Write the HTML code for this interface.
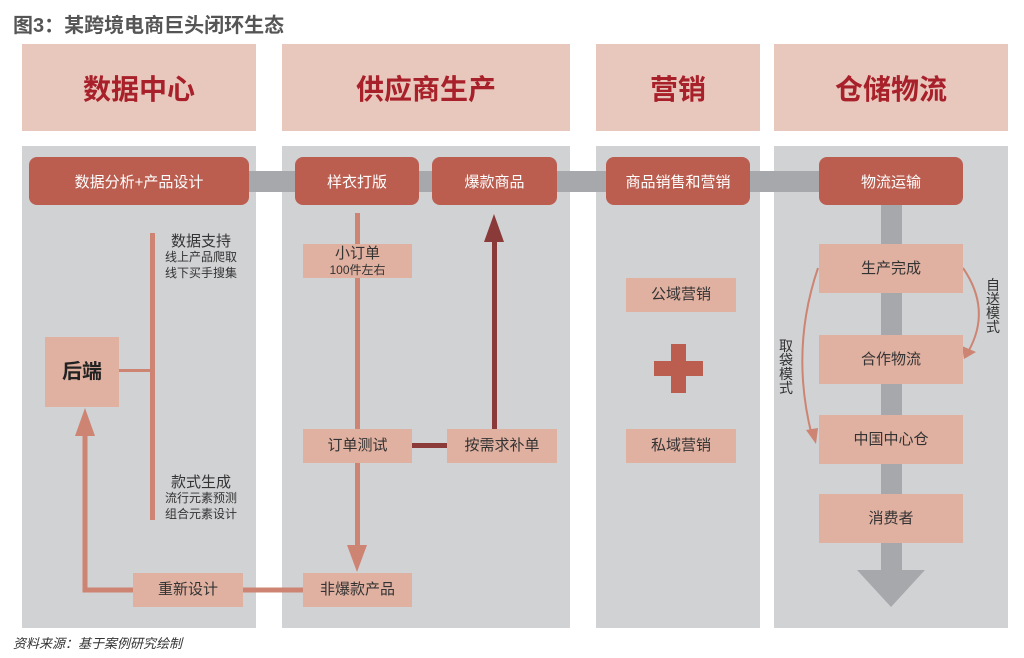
<!DOCTYPE html>
<html><head><meta charset="utf-8"><style>
body{margin:0;width:1024px;height:658px;background:#fff;position:relative;overflow:hidden;font-family:"Liberation Sans","Noto Sans CJK SC",sans-serif}
div{position:absolute;box-sizing:border-box}
.h{top:44px;height:87px;background:#e8c8bd;color:#a8202a;font-weight:bold;font-size:28px;display:flex;align-items:center;justify-content:center}
.p{top:146px;height:482px;background:#d1d2d4}
.d{top:157px;height:48px;background:#bb5e50;border-radius:8px;color:#fff;font-size:15px;display:flex;align-items:center;justify-content:center}
.b{background:#e0b0a0;color:#333;font-size:15px;display:flex;align-items:center;justify-content:center;flex-direction:column;line-height:1.2}
.t{color:#333;font-size:14px;text-align:center;line-height:15px}
.s{font-size:12px}
</style></head><body>
<div style="left:13px;top:9px;font-size:20px;font-weight:bold;color:#555">图3：某跨境电商巨头闭环生态</div>
<div class="h" style="left:22px;width:234px">数据中心</div>
<div class="h" style="left:282px;width:288px">供应商生产</div>
<div class="h" style="left:596px;width:164px">营销</div>
<div class="h" style="left:774px;width:234px">仓储物流</div>
<div class="p" style="left:22px;width:234px"></div>
<div class="p" style="left:282px;width:288px"></div>
<div class="p" style="left:596px;width:164px"></div>
<div class="p" style="left:774px;width:234px"></div>
<div style="left:249px;top:171px;width:600px;height:21px;background:#a7a8ab"></div>
<div style="left:881px;top:200px;width:21px;height:372px;background:#a7a8ab"></div>
<svg style="position:absolute;left:0;top:0" width="1024" height="658">
<polygon points="857,570 925,570 891,607" fill="#a7a8ab"/>
<rect x="150" y="233" width="5" height="287" fill="#cd8473"/>
<rect x="119" y="369" width="33" height="3" fill="#cd8473"/>
<path d="M303,590 H85 V430" stroke="#cd8473" stroke-width="5" fill="none"/>
<polygon points="75,436 95,436 85,408" fill="#cd8473"/>
<rect x="355" y="213" width="5" height="335" fill="#cd8473"/>
<polygon points="347,545 367,545 357,572" fill="#cd8473"/>
<rect x="412" y="443" width="36" height="5" fill="#8b3a3a"/>
<rect x="492" y="238" width="5" height="192" fill="#8b3a3a"/>
<polygon points="484,242 504,242 494,214" fill="#8b3a3a"/>
<rect x="671" y="344" width="15" height="49" fill="#bb5e50"/>
<rect x="654" y="361" width="49" height="15" fill="#bb5e50"/>
<path d="M818,268 Q790,350 812,436" stroke="#cd8473" stroke-width="2" fill="none"/>
<polygon points="806,430 818,428 816,444" fill="#cd8473"/>
<path d="M963,268 Q992,310 968,352" stroke="#cd8473" stroke-width="2" fill="none"/>
<polygon points="962,346 976,352 964,359" fill="#cd8473"/>
</svg>
<div class="d" style="left:29px;width:220px">数据分析+产品设计</div>
<div class="d" style="left:295px;width:124px">样衣打版</div>
<div class="d" style="left:432px;width:125px">爆款商品</div>
<div class="d" style="left:606px;width:144px">商品销售和营销</div>
<div class="d" style="left:819px;width:144px">物流运输</div>
<div class="b" style="left:45px;top:337px;width:74px;height:70px;font-size:20px;font-weight:bold;color:#222">后端</div>
<div class="t" style="left:160px;top:234px;width:82px"><span style="font-size:15px">数据支持</span><br><span class="s">线上产品爬取<br>线下买手搜集</span></div>
<div class="t" style="left:160px;top:475px;width:82px"><span style="font-size:15px">款式生成</span><br><span class="s">流行元素预测<br>组合元素设计</span></div>
<div class="b" style="left:303px;top:244px;width:109px;height:34px">小订单<span class="s">100件左右</span></div>
<div class="b" style="left:303px;top:429px;width:109px;height:34px">订单测试</div>
<div class="b" style="left:447px;top:429px;width:110px;height:34px">按需求补单</div>
<div class="b" style="left:303px;top:573px;width:109px;height:34px">非爆款产品</div>
<div class="b" style="left:133px;top:573px;width:110px;height:34px">重新设计</div>
<div class="b" style="left:626px;top:278px;width:110px;height:34px">公域营销</div>
<div class="b" style="left:626px;top:429px;width:110px;height:34px">私域营销</div>
<div class="b" style="left:819px;top:244px;width:144px;height:49px">生产完成</div>
<div class="b" style="left:819px;top:335px;width:144px;height:49px">合作物流</div>
<div class="b" style="left:819px;top:415px;width:144px;height:49px">中国中心仓</div>
<div class="b" style="left:819px;top:494px;width:144px;height:49px">消费者</div>
<div class="t" style="left:985px;top:278px;width:16px;line-height:14px">自送模式</div>
<div class="t" style="left:778px;top:339px;width:16px;line-height:14px">取袋模式</div>
<div style="left:13px;top:633px;font-size:13px;font-style:italic;color:#333">资料来源：基于案例研究绘制</div>
</body></html>
